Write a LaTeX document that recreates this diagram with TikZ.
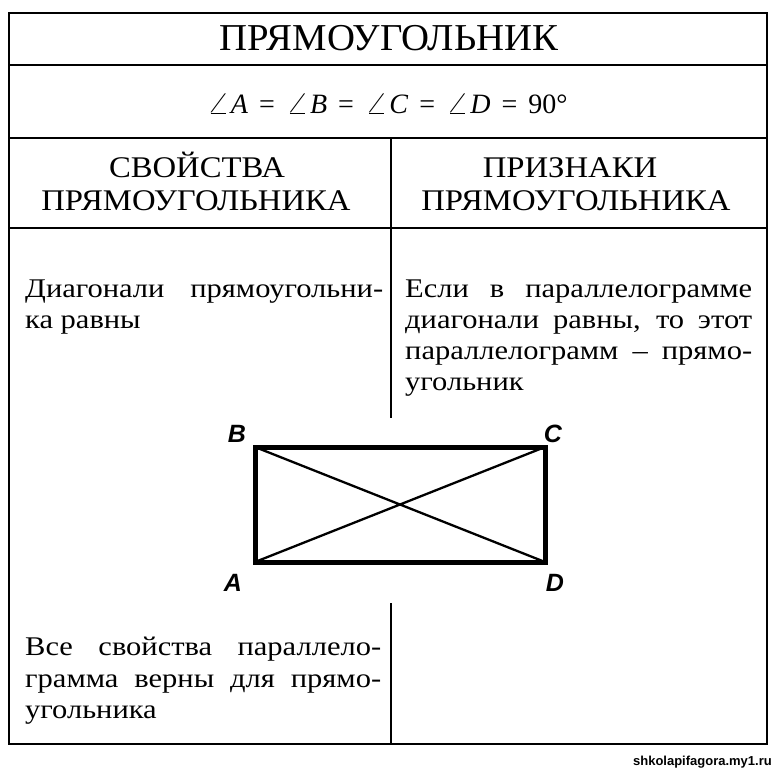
\documentclass[tikz,border=0pt]{standalone}
\usepackage{fontspec}
\setmainfont{Liberation Serif}
\setsansfont{Liberation Sans}
\newfontfamily\bodyfont[FakeStretch=1.13]{Liberation Serif}
\newfontfamily\headfont[FakeStretch=1.09]{Liberation Serif}
\newfontfamily\titlefont[FakeStretch=1.02]{Liberation Serif}
\newcommand{\jl}[2]{\makebox[#1][s]{#2}}
\newcommand{\ang}{\scalebox{1.45}[1.0]{$\angle$}\kern1pt}
\begin{document}
\begin{tikzpicture}[x=1pt,y=-1pt,
  frame/.style={line width=2.6pt},
  title/.style={font=\titlefont\fontsize{38}{40}\selectfont, inner sep=0pt, anchor=base},
  formula/.style={font=\fontsize{28}{30}\selectfont, inner sep=0pt, anchor=base},
  head/.style={font=\headfont\fontsize{30}{33}\selectfont, inner sep=0pt, anchor=base},
  body/.style={font=\bodyfont\fontsize{27}{31}\selectfont, inner sep=0pt, anchor=base west},
  vlabel/.style={font=\fontsize{25}{27}\sffamily\bfseries\itshape\selectfont, inner sep=0pt},
  wmark/.style={font=\fontsize{13}{14}\sffamily\bfseries\selectfont, inner sep=0pt, anchor=base east}
]
\useasboundingbox (0,0) rectangle (778,768);
% table frame
\draw[frame] (9,13) rectangle (767,744);
\draw[frame] (9,65) -- (767,65);
\draw[frame] (9,138) -- (767,138);
\draw[frame] (9,228) -- (767,228);
\draw[frame] (391,138) -- (391,418);
\draw[frame] (391,603) -- (391,744);
% title and formula
\node[title] (ttl) at (389,50) {ПРЯМОУГОЛЬНИК};
\node[formula] (frm) at (387,113) {\jl{361pt}{\ang\textit{A} = \ang\textit{B} = \ang\textit{C} = \ang\textit{D} = 90°}};
% headers
\node[head] (h1a) at (197,177) {СВОЙСТВА};
\node[head] (h1b) at (196,210) {ПРЯМОУГОЛЬНИКА};
\node[head] (h2a) at (570,177) {ПРИЗНАКИ};
\node[head] (h2b) at (576,210) {ПРЯМОУГОЛЬНИКА};
% left top text
\node[body] (p1a) at (25,297) {\jl{358pt}{Диагонали прямоугольни-}};
\node[body] (p1b) at (25,328) {ка равны};
% right text
\node[body] (p2a) at (405,297) {\jl{347pt}{Если в параллелограмме}};
\node[body] (p2b) at (405,328) {\jl{347pt}{диагонали равны, то этот}};
\node[body] (p2c) at (405,359) {\jl{347pt}{параллелограмм – прямо-}};
\node[body] (p2d) at (405,390) {угольник};
% left bottom text
\node[body] (p3a) at (25,655) {\jl{356pt}{Все свойства параллело-}};
\node[body] (p3b) at (25,687) {\jl{356pt}{грамма верны для прямо-}};
\node[body] (p3c) at (25,718) {угольника};
% rectangle
\coordinate (A) at (255,562);
\coordinate (B) at (255,447);
\coordinate (C) at (545,447);
\coordinate (D) at (545,562);
\draw[line width=2.3pt] (A) -- (C) (B) -- (D);
\draw[line width=5pt, line join=miter] (A) -- (B) -- (C) -- (D) -- cycle;
\node[vlabel] (lA) at (233,583) {A};
\node[vlabel] (lB) at (237,434) {B};
\node[vlabel] (lC) at (553,434) {C};
\node[vlabel] (lD) at (555,583) {D};
% watermark
\node[wmark] (wm) at (772,765) {shkolapifagora.my1.ru};
\end{tikzpicture}
\end{document}
